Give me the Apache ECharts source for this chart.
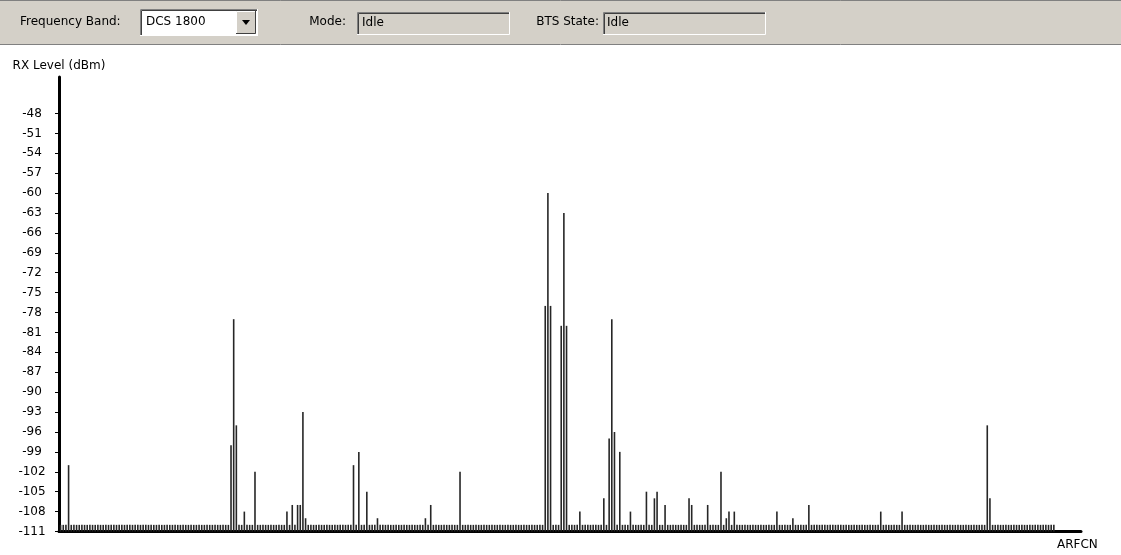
<!DOCTYPE html>
<html>
<head>
<meta charset="utf-8">
<title>RX Level</title>
<script src="https://cdn.jsdelivr.net/npm/echarts@6.0.0/dist/echarts.min.js"></script>
<style>
html, body {margin:0; padding:0; background:#fff;}
#spectrum {width:1121px; height:555px;}
</style>
</head>
<body>
<div id="spectrum"></div>
<script>
var spectrum = echarts.init(document.getElementById('spectrum'));

// DCS 1800 band
var firstArfcn = 512;
var lastArfcn = 885;
// channels that rise above the floor and their level (dBm)
var peakArfcn = [515, 576, 577, 578, 581, 585, 597, 599, 601, 602, 603, 604,
    622, 624, 627, 631, 649, 651, 662, 694, 695, 696, 700, 701, 702, 707,
    716, 718, 719, 720, 722, 726, 732, 735, 736, 739, 748, 749, 755, 760,
    762, 763, 765, 781, 787, 793, 820, 828, 860, 861];
var peakLevel = [-101, -98, -79, -95, -108, -102, -108, -107, -107, -107, -93, -109,
    -101, -99, -105, -109, -109, -107, -102, -77, -60, -77, -80, -63, -80, -108,
    -106, -97, -79, -96, -99, -108, -105, -106, -105, -107, -106, -107, -107, -102,
    -109, -108, -108, -108, -109, -107, -108, -108, -95, -106];
// all the other channels
var floorLevel = -110;
var yTicks = [-111, -108, -105, -102, -99, -96, -93, -90, -87, -84, -81, -78,
    -75, -72, -69, -66, -63, -60, -57, -54, -51, -48];

var bars = [];
for (var ch = firstArfcn; ch <= lastArfcn; ch++) {
    var k = peakArfcn.indexOf(ch);
    bars.push([ch, k >= 0 ? peakLevel[k] : floorLevel]);
}

var uiFont = '12px "DejaVu Sans"';
var face = '#d4d0c8';

/*每根竖线从 -111 画到信号电平*/
function renderBar(params, api) {
    var top = api.coord([api.value(0), api.value(1)]);
    var base = api.coord([api.value(0), yTicks[0]]);
    return {
        type: 'rect',
        shape: {x: top[0] - 0.8, y: top[1], width: 1.6, height: base[1] - top[1]},
        style: {fill: '#262626'}
    };
}

// sunken field border
function sunken(x, y, w, h, fill) {
    return [
        {type: 'rect', shape: {x: x, y: y, width: w, height: h}, style: {fill: fill}},
        {type: 'polyline', shape: {points: [[x + 0.5, y + h], [x + 0.5, y + 0.5], [x + w, y + 0.5]]}, style: {stroke: '#808080', fill: null}},
        {type: 'polyline', shape: {points: [[x + 1.5, y + h - 1], [x + 1.5, y + 1.5], [x + w - 1, y + 1.5]]}, style: {stroke: '#404040', fill: null}},
        {type: 'polyline', shape: {points: [[x, y + h - 0.5], [x + w - 0.5, y + h - 0.5], [x + w - 0.5, y]]}, style: {stroke: '#fff', fill: null}}
    ];
}

function label(x, text, align) {
    return {type: 'text', x: x, y: 22, style: {text: text, font: uiFont, fill: '#000', align: align || 'left', verticalAlign: 'middle'}};
}

var toolbar = [
    {type: 'rect', shape: {x: 0, y: 0, width: 1121, height: 44}, style: {fill: face}},
    {type: 'line', shape: {x1: 0, y1: 0.5, x2: 1121, y2: 0.5}, style: {stroke: '#808080'}},
    {type: 'line', shape: {x1: 0, y1: 44.5, x2: 1121, y2: 44.5}, style: {stroke: '#808080'}},
    label(20, 'Frequency Band:')
]
.concat(sunken(140, 9, 118, 27, '#fff'))
.concat([
    {type: 'text', x: 146, y: 22, style: {text: 'DCS 1800', font: uiFont, fill: '#000', verticalAlign: 'middle'}},
    {type: 'rect', shape: {x: 236, y: 11, width: 20, height: 23}, style: {fill: face, stroke: null}},
    {type: 'polyline', shape: {points: [[236.5, 34], [236.5, 11.5], [256, 11.5]]}, style: {stroke: '#fff', fill: null}},
    {type: 'polyline', shape: {points: [[236, 33.5], [255.5, 33.5], [255.5, 11]]}, style: {stroke: '#404040', fill: null}},
    {type: 'polygon', shape: {points: [[242, 20], [250, 20], [246, 25]]}, style: {fill: '#000'}},
    label(346, 'Mode:', 'right')
])
.concat(sunken(357, 12, 153, 23, face))
.concat([
    {type: 'text', x: 362, y: 23, style: {text: 'Idle', font: uiFont, fill: '#000', verticalAlign: 'middle'}},
    label(599, 'BTS State:', 'right')
])
.concat(sunken(603, 12, 163, 23, face))
.concat([
    {type: 'text', x: 607, y: 23, style: {text: 'Idle', font: uiFont, fill: '#000', verticalAlign: 'middle'}}
]);

var option = {
    animation: false,
    backgroundColor: '#fff',
    textStyle: {fontFamily: 'DejaVu Sans'},
    grid: {left: 59, right: 40, top: 77, bottom: 23.5},
    xAxis: {
        type: 'value',
        min: 511.4,
        max: 895.2,
        name: 'ARFCN',
        nameLocation: 'end',
        nameGap: -24,
        nameTextStyle: {color: '#000', fontSize: 12, align: 'left', verticalAlign: 'top', padding: [7, 0, 0, 0]},
        axisLine: {onZero: false, lineStyle: {color: '#000', width: 3}},
        axisTick: {show: false},
        axisLabel: {show: false},
        splitLine: {show: false}
    },
    yAxis: {
        type: 'value',
        min: -111,
        max: -42.5,
        name: 'RX Level (dBm)',
        nameLocation: 'end',
        nameGap: 5,
        nameTextStyle: {color: '#000', fontSize: 12},
        axisLine: {show: true, onZero: false, lineStyle: {color: '#000', width: 3}},
        axisTick: {show: true, length: 4, customValues: yTicks, lineStyle: {color: '#000'}},
        axisLabel: {customValues: yTicks, color: '#000', fontSize: 12, align: 'center', margin: 27},
        splitLine: {show: false}
    },
    graphic: toolbar,
    series: [{
        type: 'custom',
        renderItem: renderBar,
        encode: {x: 0, y: 1},
        data: bars
    }]
};
spectrum.setOption(option);
</script>
</body>
</html>
